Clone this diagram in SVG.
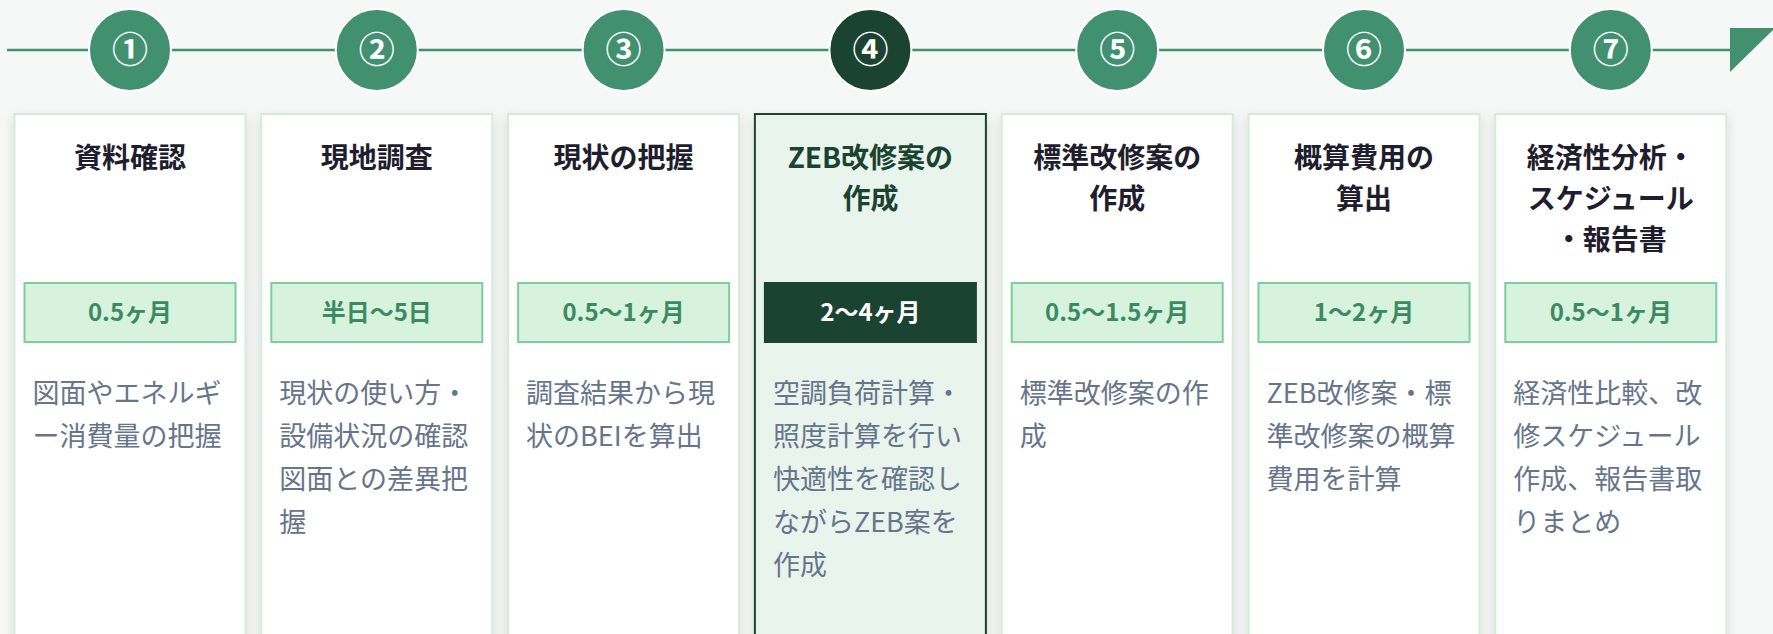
<svg xmlns="http://www.w3.org/2000/svg" width="1773" height="634" viewBox="0 0 1773 634">
<defs>
<filter id="sh" x="-20%" y="-10%" width="140%" height="130%">
<feDropShadow dx="0" dy="4" stdDeviation="6" flood-color="#000" flood-opacity="0.12"/>
</filter>
<style>
.card{fill:#ffffff;stroke:#d2ebdc;stroke-width:2;filter:url(#sh)}
.cardA{fill:#e9f4ec;stroke:#1b4332;stroke-width:2;filter:url(#sh)}
.step{fill:#419170;stroke:#ffffff;stroke-width:2}
.stepA{fill:#1b4332;stroke:#ffffff;stroke-width:2}
.num{font-family:"Noto Sans CJK JP","Noto Sans",sans-serif;font-size:36px;fill:#ffffff;text-anchor:middle;font-weight:bold}
.title{font-family:"Noto Sans CJK JP",sans-serif;font-size:28px;font-weight:bold;fill:#1e1e2e;text-anchor:middle}
.titleA{fill:#1b4332}
.badge{fill:#d7f2dd;stroke:#7ccf9c;stroke-width:2}
.badgeA{fill:#1b4332;stroke:#1b4332;stroke-width:2}
.btxt{font-family:"Noto Sans CJK JP",sans-serif;font-size:24px;font-weight:bold;fill:#3b8a63;text-anchor:middle}
.btxtA{fill:#ffffff}
.desc{font-family:"Noto Sans CJK JP",sans-serif;font-size:27px;fill:#66758c}
.conn{stroke:#419170;stroke-width:2.5;fill:none}
</style>
</defs>
<rect x="0" y="0" width="1773" height="634" fill="#f6f8f7"/>
<g id="connectors">
<line class="conn" x1="7" y1="50" x2="1731" y2="50"/>
<polygon points="1730,28 1775,28 1730,72" fill="#419170"/>
</g>
<g id="node1">
<circle class="step" cx="130" cy="50" r="41"/>
<text class="num" x="130" y="63">①</text>
<rect class="card" x="14.5" y="114" width="231" height="540"/>
<text class="title" x="130" y="168">資料確認</text>
<rect class="badge" x="24.5" y="283" width="211" height="59"/>
<text class="btxt" x="130" y="321">0.5ヶ月</text>
<text class="desc" x="32.5" y="403">図面やエネルギ</text>
<text class="desc" x="32.5" y="446">ー消費量の把握</text>
</g>
<g id="node2">
<circle class="step" cx="376.8" cy="50" r="41"/>
<text class="num" x="376.8" y="63">②</text>
<rect class="card" x="261.3" y="114" width="231" height="540"/>
<text class="title" x="376.8" y="168">現地調査</text>
<rect class="badge" x="271.3" y="283" width="211" height="59"/>
<text class="btxt" x="376.8" y="321">半日〜5日</text>
<text class="desc" x="279.3" y="403">現状の使い方・</text>
<text class="desc" x="279.3" y="446">設備状況の確認</text>
<text class="desc" x="279.3" y="489">図面との差異把</text>
<text class="desc" x="279.3" y="532">握</text>
</g>
<g id="node3">
<circle class="step" cx="623.6" cy="50" r="41"/>
<text class="num" x="623.6" y="63">③</text>
<rect class="card" x="508.1" y="114" width="231" height="540"/>
<text class="title" x="623.6" y="168">現状の把握</text>
<rect class="badge" x="518.1" y="283" width="211" height="59"/>
<text class="btxt" x="623.6" y="321">0.5〜1ヶ月</text>
<text class="desc" x="526.1" y="403">調査結果から現</text>
<text class="desc" x="526.1" y="446">状のBEIを算出</text>
</g>
<g id="node4">
<circle class="stepA" cx="870.4" cy="50" r="41"/>
<text class="num" x="870.4" y="63">④</text>
<rect class="cardA" x="754.9" y="114" width="231" height="540"/>
<text class="title titleA" x="870.4" y="168">ZEB改修案の</text>
<text class="title titleA" x="870.4" y="209">作成</text>
<rect class="badgeA" x="764.9" y="283" width="211" height="59"/>
<text class="btxt btxtA" x="870.4" y="321">2〜4ヶ月</text>
<text class="desc" x="772.9" y="403">空調負荷計算・</text>
<text class="desc" x="772.9" y="446">照度計算を行い</text>
<text class="desc" x="772.9" y="489">快適性を確認し</text>
<text class="desc" x="772.9" y="532">ながらZEB案を</text>
<text class="desc" x="772.9" y="575">作成</text>
</g>
<g id="node5">
<circle class="step" cx="1117.2" cy="50" r="41"/>
<text class="num" x="1117.2" y="63">⑤</text>
<rect class="card" x="1001.7" y="114" width="231" height="540"/>
<text class="title" x="1117.2" y="168">標準改修案の</text>
<text class="title" x="1117.2" y="209">作成</text>
<rect class="badge" x="1011.7" y="283" width="211" height="59"/>
<text class="btxt" x="1117.2" y="321">0.5〜1.5ヶ月</text>
<text class="desc" x="1019.7" y="403">標準改修案の作</text>
<text class="desc" x="1019.7" y="446">成</text>
</g>
<g id="node6">
<circle class="step" cx="1364" cy="50" r="41"/>
<text class="num" x="1364" y="63">⑥</text>
<rect class="card" x="1248.5" y="114" width="231" height="540"/>
<text class="title" x="1364" y="168">概算費用の</text>
<text class="title" x="1364" y="209">算出</text>
<rect class="badge" x="1258.5" y="283" width="211" height="59"/>
<text class="btxt" x="1364" y="321">1〜2ヶ月</text>
<text class="desc" x="1266.5" y="403">ZEB改修案・標</text>
<text class="desc" x="1266.5" y="446">準改修案の概算</text>
<text class="desc" x="1266.5" y="489">費用を計算</text>
</g>
<g id="node7">
<circle class="step" cx="1610.8" cy="50" r="41"/>
<text class="num" x="1610.8" y="63">⑦</text>
<rect class="card" x="1495.3" y="114" width="231" height="540"/>
<text class="title" x="1610.8" y="168">経済性分析・</text>
<text class="title" x="1610.8" y="209">スケジュール</text>
<text class="title" x="1610.8" y="250">・報告書</text>
<rect class="badge" x="1505.3" y="283" width="211" height="59"/>
<text class="btxt" x="1610.8" y="321">0.5〜1ヶ月</text>
<text class="desc" x="1513.3" y="403">経済性比較、改</text>
<text class="desc" x="1513.3" y="446">修スケジュール</text>
<text class="desc" x="1513.3" y="489">作成、報告書取</text>
<text class="desc" x="1513.3" y="532">りまとめ</text>
</g>
</svg>
